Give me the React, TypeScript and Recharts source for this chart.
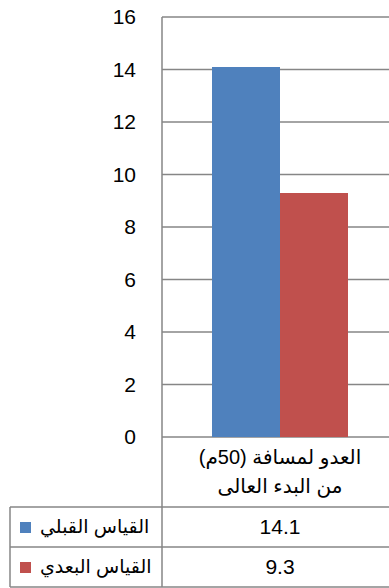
import { BarChart, Bar, XAxis, YAxis, CartesianGrid } from "recharts";

const categories = ["العدو لمسافة (50م)|من البدء العالى"];
const seriesNames = ["القياس القبلي", "القياس البعدي"];
const beforeValues = [14.1];
const afterValues = [9.3];
const yTicks = [0, 2, 4, 6, 8, 10, 12, 14, 16];

const COLORS = ["#4F81BD", "#C0504D"];
const GRID = "#868686";
const FONT = "'Liberation Sans', Arial, 'DejaVu Sans', sans-serif";

const data = categories.map((name, i) => ({
  name,
  before: beforeValues[i],
  after: afterValues[i],
}));

const seriesValues = [beforeValues, afterValues];

function CategoryTick(props: any) {
  const { x, y, payload, index } = props;
  const lines = String(payload.value).split("|");
  return (
    <g>
      {lines.map((line, i) => (
        <text
          key={i}
          x={x}
          y={y + 22 + i * 29}
          textAnchor="middle"
          dominantBaseline="middle"
          fontSize={20}
          fontFamily={FONT}
          fill="#000"
        >
          {line}
        </text>
      ))}
      {/* data table rows */}
      <line x1={10} x2={400} y1={y + 70} y2={y + 70} stroke={GRID} strokeWidth={1.5} />
      <line x1={10} x2={400} y1={y + 110} y2={y + 110} stroke={GRID} strokeWidth={1.5} />
      <line x1={10} x2={400} y1={y + 150} y2={y + 150} stroke={GRID} strokeWidth={1.5} />
      <line x1={10} x2={10} y1={y + 70} y2={y + 150} stroke={GRID} strokeWidth={1.5} />
      <line x1={162} x2={162} y1={y} y2={y + 150} stroke={GRID} strokeWidth={1.5} />
      {seriesNames.map((s, r) => (
        <g key={s}>
          <rect x={20} y={y + 85 + r * 40} width={11} height={11} fill={COLORS[r]} />
          <text
            x={40}
            y={y + 91 + r * 40}
            dominantBaseline="middle"
            fontSize={19}
            fontFamily={FONT}
            fill="#000"
          >
            {s}
          </text>
          <text
            x={x}
            y={y + 91 + r * 40}
            textAnchor="middle"
            dominantBaseline="middle"
            fontSize={21}
            fontFamily={FONT}
            fill="#000"
          >
            {seriesValues[r][index]}
          </text>
        </g>
      ))}
    </g>
  );
}

export default function App() {
  return (
    <div
      style={{
        position: "absolute",
        left: 0,
        top: 0,
        width: 389,
        height: 588,
        overflow: "hidden",
        background: "#fff",
      }}
    >
      <BarChart
        width={399}
        height={588}
        data={data}
        margin={{ top: 17, right: 1, left: 0, bottom: 0 }}
        barGap={0}
      >
        <CartesianGrid vertical={false} stroke={GRID} strokeWidth={1.3} />
        <YAxis
          width={162}
          domain={[0, 16]}
          ticks={yTicks}
          tickLine={false}
          tickSize={0}
          tickMargin={26}
          axisLine={{ stroke: GRID, strokeWidth: 1.5 }}
          tick={{ fontSize: 21, fill: "#000", fontFamily: FONT }}
        />
        <XAxis
          dataKey="name"
          height={151}
          axisLine={false}
          tickLine={false}
          tickSize={0}
          tickMargin={0}
          interval={0}
          tick={<CategoryTick />}
        />
        <Bar dataKey="before" fill={COLORS[0]} barSize={68} isAnimationActive={false} />
        <Bar dataKey="after" fill={COLORS[1]} barSize={68} isAnimationActive={false} />
      </BarChart>
    </div>
  );
}
